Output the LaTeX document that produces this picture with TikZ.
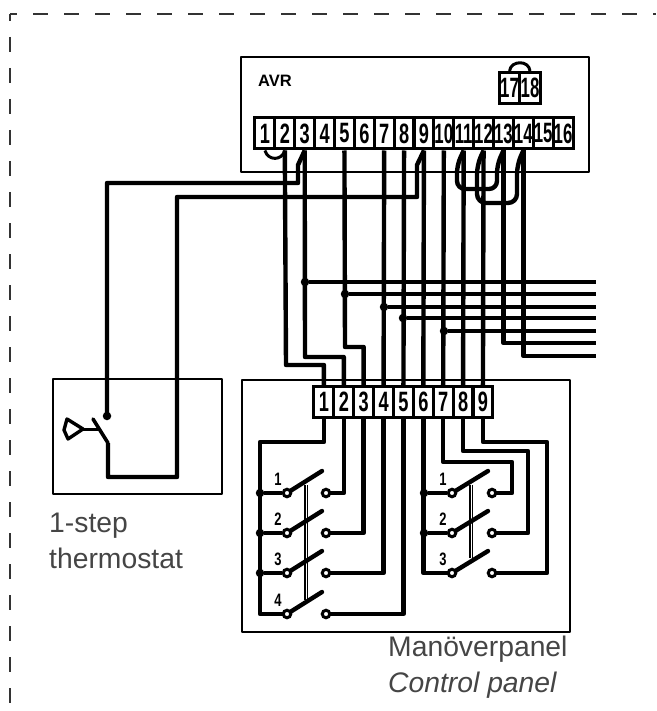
\documentclass[tikz,border=0pt]{standalone}
\usepackage{fontspec}
\setmainfont{Liberation Sans}
\setsansfont{Liberation Sans}
\usepackage{xcolor}
\definecolor{framegray}{gray}{0.2}
\definecolor{textgray}{gray}{0.27}
\tikzset{
    wire/.style={line width=4.4pt,line join=round},
    thinwire/.style={line width=3pt,line join=round},
    rod/.style={double,double distance=0.9pt,line width=1.7pt},
    box/.style={line width=2.8pt,line join=round},
    term/.style={draw,line width=3pt,minimum width=19.9pt,minimum height=31pt,inner sep=0pt,font=\sffamily\bfseries\fontsize{28}{28}\selectfont},
    contact/.style={circle,draw,fill=white,line width=3pt,minimum size=7.5pt,inner sep=0pt},
    joint/.style={circle,fill=black,minimum size=8.5pt,inner sep=0pt},
    swlabel/.style={font=\sffamily\bfseries\fontsize{18}{18}\selectfont,inner sep=0pt},
    caption/.style={text=textgray,font=\fontsize{28.3}{36}\selectfont,align=left,inner sep=0pt},
}
\begin{document}
\begin{tikzpicture}[x=1pt,y=-1pt]
    \useasboundingbox (0,0) rectangle (656,711);

    % Dashed frame:
    \draw [framegray,line width=1.6pt,dash pattern=on 15pt off 16pt,dash phase=8pt] (10,14) -- (656,14);
    \draw [framegray,line width=1.6pt,dash pattern=on 15pt off 16pt,dash phase=8pt] (10,14) -- (10,711);

    % Boxes:
    \draw [box] (241,57) rectangle (589,172);
    \draw [box] (53,379) rectangle (222,494);
    \draw [box] (242,380) rectangle (570,632);
    \node [inner sep=0pt,font=\sffamily\bfseries\fontsize{16.5}{16.5}\selectfont] (avrname) at (275,81) {AVR};

    % Terminals:
    \foreach \n in {1,...,9}{%
        \node [term] (avr\n) at ({255+19.875*(\n-0.5)},133.5) {\scalebox{.65}[1]{\n}};
        \node [term] (pan\n) at ({314+19.875*(\n-0.5)},402) {\scalebox{.65}[1]{\n}};
    }
    \foreach \n in {10,...,16}{%
        \node [term] (avr\n) at ({255+19.875*(\n-0.5)},133.5) {\scalebox{.6}[1]{\n}};
    }
    \node [term,minimum width=20.5pt] (avr17) at (509.5,88) {\scalebox{.6}[1]{17}};
    \node [term,minimum width=20.5pt] (avr18) at (530,88) {\scalebox{.6}[1]{18}};
    \draw [thinwire] (avr17.north) .. controls (511,60) and (529,60) .. (avr18.north);

    % Jumpers on the AVR side:
    \draw [thinwire] (avr1.south) .. controls (268,161) and (282,161) .. (avr2.south);
    \draw [wire] (avr3.south) -- (298,165) |- (107,183) -- (107,416) node [joint] (thermtop) {};
    \draw [wire] (avr9.south) -- (417,165) |- (177,197) |- (108,477) -- (108,443) coordinate (thermbot);
    \draw [wire,rounded corners=8pt] (avr13.south) -- (497,165) -- (497,189) -- (457,189) -- (457,165) -- (avr11.south);
    \draw [wire,rounded corners=9pt] (avr14.south) -- (517,165) -- (517,203) -- (477,203) -- (477,165) -- (avr12.south);

    % Thermostat:
    \draw [thinwire,line width=3.6pt,line cap=round] (93,419) -- (thermbot);
    \draw [thinwire] (98,429) -- (80,429);
    \draw [line width=3.4pt,line join=round] (67,419) -- (83,429) -- (68,439) -- (64,430) -- cycle;

    % Wires down to the panel:
    \draw [wire] (avr2.south) -- (286,365) -| (pan1.north);
    \draw [wire] (avr3.south) -- (305,357) -| (pan2.north);
    \draw [wire] (avr5.south) -- (345,347) -| (pan3.north);
    \foreach \a/\b in {7/4,8/5,9/6,10/7,11/8,12/9}{%
        \draw [wire] (avr\a.south) -- (pan\b.north);
    }

    % Bus on the right:
    \foreach \x/\y/\name in {305/282/a,345/294/b,384/307/c,403/318/d,444/331/e}{%
        \coordinate (end\name) at (596,\y);
        \node [joint] (dot\name) at (\x,\y) {};
        \draw [wire] (dot\name) -- (end\name);
    }
    \coordinate (endf) at (596,343);
    \coordinate (endg) at (596,356);
    \draw [wire] (avr13.south) |- (endf);
    \draw [wire] (avr14.south) |- (endg);

    % Left group of switches:
    \draw [wire] (pan1.south) |- (260,442) |- (287,614);
    \draw [wire] (pan2.south) |- (326,493);
    \draw [wire] (pan3.south) |- (326,533);
    \draw [wire] (pan4.south) |- (326,573);
    \draw [wire] (pan5.south) |- (326,614);
    \draw [rod] (306,485) -- (306,600);
    \foreach \y/\n in {493/1,533/2,573/3,614/4}{%
        \draw [wire,line cap=round] (287,\y) -- (322,{\y-22});
        \node [contact] (lsw\n) at (287,\y) {};
        \node [contact] (lct\n) at (326,\y) {};
        \node [swlabel] (llab\n) at (278,{\y-14}) {\scalebox{.72}[1]{\n}};
    }
    \foreach \y/\n in {493/1,533/2,573/3}{%
        \node [joint] (ldot\n) at (260,\y) {};
        \draw [wire] (ldot\n) -- (lsw\n);
    }

    % Right group of switches:
    \draw [wire] (pan6.south) |- (452,573);
    \draw [wire] (pan7.south) |- (512,462) |- (492,493);
    \draw [wire] (pan8.south) |- (528,451) |- (492,533);
    \draw [wire] (pan9.south) |- (547,442) -- (547,573) -- (492,573);
    \draw [rod] (471,485) -- (471,558);
    \foreach \y/\n in {493/1,533/2,573/3}{%
        \draw [wire,line cap=round] (452,\y) -- (488,{\y-22});
        \node [contact] (rsw\n) at (452,\y) {};
        \node [contact] (rct\n) at (492,\y) {};
        \node [swlabel] (rlab\n) at (443,{\y-14}) {\scalebox{.72}[1]{\n}};
    }
    \foreach \y/\n in {493/1,533/2}{%
        \node [joint] (rdot\n) at (424,\y) {};
        \draw [wire] (rdot\n) -- (rsw\n);
    }

    % Captions:
    \node [caption,anchor=north west] (thermcap) at (49,512.5) {1-step\\thermostat};
    \node [caption,anchor=north west] (pancap) at (388,636) {Manöverpanel\\\textit{Control panel}};
\end{tikzpicture}
\end{document}
